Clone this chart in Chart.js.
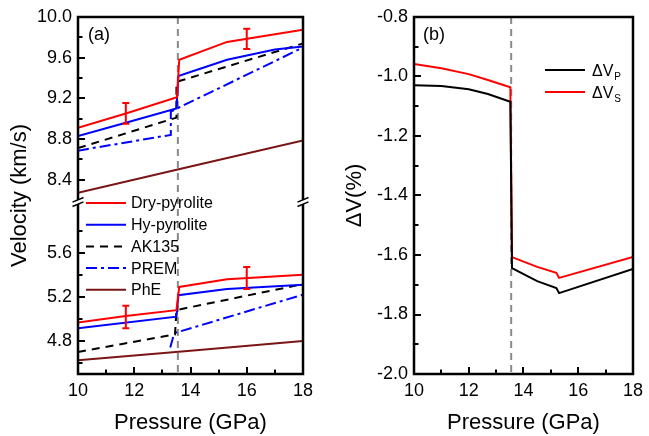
<!DOCTYPE html>
<html>
<head>
<meta charset="utf-8">
<script src="https://cdn.jsdelivr.net/npm/chart.js@4.4.0/dist/chart.umd.min.js"></script>
<style>
  html, body { margin: 0; padding: 0; background: #fff; }
  #wrap { position: relative; width: 649px; height: 436px; }
  #boxA { position: absolute; left: 0; top: 0; width: 330px; height: 436px; }
  #boxB { position: absolute; left: 330px; top: 0; width: 319px; height: 436px; }
</style>
</head>
<body>
<div id="wrap">
  <div id="boxA"><canvas id="chartA"></canvas></div>
  <div id="boxB"><canvas id="chartB"></canvas></div>
</div>
<script>
// ==================================================
// DATA
// ==================================================

// axes / ticks
const pressureTicks = [10, 12, 14, 16, 18];
const pressureMinor = [11, 13, 15, 17];
const vpTicks = [8.4, 8.8, 9.2, 9.6, 10.0];
const vpMinor = [8.6, 9.0, 9.4, 9.8];
const vsTicks = [4.8, 5.2, 5.6];
const vsMinor = [4.6, 5.0, 5.4, 5.8];
const dvTicks = [-2.0, -1.8, -1.6, -1.4, -1.2, -1.0, -0.8];
const dvMinor = [-1.9, -1.7, -1.5, -1.3, -1.1, -0.9];

const xTitle = 'Pressure (GPa)';
const yTitleA = 'Velocity (km/s)';
const yTitleB = 'ΔV(%)';

// 410-km transition (grey dashed line)
const transitionP = 13.55;

// panel (a) series
const seriesNames  = ['Dry-pyrolite', 'Hy-pyrolite', 'AK135', 'PREM', 'PhE'];
const seriesColors = ['#ff0000', '#0000ff', '#000000', '#0000ff', '#7b1414'];
const seriesDash   = [[], [], [8, 6], [11, 4, 3, 4], []];

// Vp (upper part)
const dryVpP  = [10, 11.7, 13.52, 13.6, 15.3, 18];
const dryVpV  = [8.91, 9.05, 9.21, 9.58, 9.755, 9.875];
const hyVpP   = [10, 11.7, 13.5, 13.57, 15.3, 17, 18];
const hyVpV   = [8.83, 8.96, 9.10, 9.42, 9.58, 9.68, 9.71];
const akVpP   = [10, 13.5, 13.5, 13.6, 18];
const akVpV   = [8.71, 9.01, 9.36, 9.37, 9.74];
const premVpP = [10, 10.3, 13.3, 13.3, 18];
const premVpV = [8.685, 8.70, 8.84, 9.07, 9.70];
const pheVpP  = [10, 14, 18];
const pheVpV  = [8.27, 8.53, 8.785];

// Vs (lower part)
const dryVsP  = [10, 11.7, 13.5, 13.6, 15.3, 18];
const dryVsV  = [4.967, 5.027, 5.079, 5.29, 5.36, 5.40];
const hyVsP   = [10, 13.5, 13.57, 15.3, 18];
const hyVsV   = [4.915, 5.02, 5.215, 5.27, 5.31];
const akVsP   = [10, 13.45, 13.5, 18];
const akVsV   = [4.70, 4.86, 5.08, 5.315];
const premVsP = [13.28, 13.42, 18];
const premVsV = [4.74, 4.87, 5.22];
const pheVsP  = [10, 14, 18];
const pheVsV  = [4.625, 4.71, 4.80];

// error bars (dry pyrolite)
const errP      = [11.7, 16];
const errVpLow  = [8.95, 9.685];
const errVpHigh = [9.155, 9.885];
const errVsLow  = [4.915, 5.27];
const errVsHigh = [5.118, 5.47];

// panel (b) series
const dvpP = [10, 11, 12, 12.7, 13.52, 13.58, 14.5, 15.2, 15.3, 18];
const dvpV = [-1.029, -1.032, -1.043, -1.059, -1.085, -1.644, -1.688, -1.711, -1.728, -1.647];
const dvsP = [10, 11, 12, 12.7, 13.52, 13.58, 14.5, 15.2, 15.3, 18];
const dvsV = [-0.958, -0.972, -0.992, -1.012, -1.036, -1.607, -1.64, -1.660, -1.677, -1.607];
const deltaNames  = ['ΔV', 'ΔV'];
const deltaSubs   = ['P', 'S'];
const deltaColors = ['#000000', '#ff0000'];

// ==================================================
// HELPERS
// ==================================================
const FONT = '"Liberation Sans", Arial, sans-serif';
Chart.defaults.font.family = FONT;
Chart.defaults.color = '#000';

function toPoints(xs, ys) {
    return xs.map(function(x, i) { return { x: x, y: ys[i] }; });
}

function lineSet(name, xs, ys, color, dash, axis) {
    return {
        label: name,
        data: toPoints(xs, ys),
        yAxisID: axis,
        borderColor: color,
        backgroundColor: color,
        borderWidth: 2,
        borderDash: dash,
        pointRadius: 0,
        fill: false,
        tension: 0
    };
}

function setTicks(values) {
    return function(scale) { scale.ticks = values.map(function(v) { return { value: v }; }); };
}

function drawTickMarks(ctx, scale, values, len, area) {
    ctx.beginPath();
    values.forEach(function(v) {
        const p = Math.round(scale.getPixelForValue(v));
        if (scale.isHorizontal()) {
            ctx.moveTo(p, area.bottom);
            ctx.lineTo(p, area.bottom - len);
        } else {
            ctx.moveTo(area.left, p);
            ctx.lineTo(area.left + len, p);
        }
    });
    ctx.stroke();
}

function drawFrame(ctx, a) {
    ctx.save();
    ctx.strokeStyle = '#000';
    ctx.lineWidth = 2.5;
    ctx.strokeRect(a.left, a.top, a.right - a.left, a.bottom - a.top);
    ctx.restore();
}

function drawTransition(chart) {
    const ctx = chart.ctx, a = chart.chartArea;
    const px = chart.scales.x.getPixelForValue(transitionP);
    ctx.save();
    ctx.strokeStyle = '#8a8a8a';
    ctx.lineWidth = 2;
    ctx.setLineDash([7, 5]);
    ctx.beginPath();
    ctx.moveTo(px, a.top);
    ctx.lineTo(px, a.bottom);
    ctx.stroke();
    ctx.restore();
}

function xAxisOpts() {
    return {
        type: 'linear', min: 10, max: 18,
        afterBuildTicks: setTicks(pressureTicks),
        afterFit: function(s) { s.height = 62; },
        grid: { display: false, drawTicks: false },
        border: { display: false },
        ticks: { font: { size: 18 }, color: '#000', padding: 6, maxRotation: 0, autoSkip: false,
                 callback: function(v) { return String(v); } },
        title: { display: true, text: xTitle, font: { size: 22 }, color: '#000', padding: { top: 0, bottom: 0 } }
    };
}

function yAxisOpts(min, max, ticks, width) {
    return {
        type: 'linear', position: 'left', min: min, max: max,
        afterBuildTicks: setTicks(ticks),
        afterFit: function(s) { s.width = width; },
        grid: { display: false, drawTicks: false },
        border: { display: false },
        ticks: { font: { size: 18 }, color: '#000', padding: 6, autoSkip: false,
                 callback: function(v) { return v.toFixed(1); } }
    };
}

// ==================================================
// PANEL (a)
// ==================================================
const panelA = {
    id: 'panelA',
    beforeDatasetsDraw: drawTransition,
    afterDatasetsDraw: function(chart) {
        const ctx = chart.ctx, a = chart.chartArea;
        const x = chart.scales.x, yTop = chart.scales.yTop, yBot = chart.scales.yBot;

        // error bars
        ctx.save();
        ctx.strokeStyle = '#ff0000';
        ctx.lineWidth = 2;
        errP.forEach(function(p, i) {
            const px = x.getPixelForValue(p);
            [[yTop, errVpLow[i], errVpHigh[i]], [yBot, errVsLow[i], errVsHigh[i]]].forEach(function(e) {
                const y1 = e[0].getPixelForValue(e[1]), y2 = e[0].getPixelForValue(e[2]);
                ctx.beginPath();
                ctx.moveTo(px, y1); ctx.lineTo(px, y2);
                ctx.moveTo(px - 3.5, y1); ctx.lineTo(px + 3.5, y1);
                ctx.moveTo(px - 3.5, y2); ctx.lineTo(px + 3.5, y2);
                ctx.stroke();
            });
        });
        ctx.restore();

        drawFrame(ctx, a);

        // inward ticks
        ctx.save();
        ctx.strokeStyle = '#000';
        ctx.lineWidth = 2;
        drawTickMarks(ctx, x, pressureTicks, 7, a);
        drawTickMarks(ctx, x, pressureMinor, 4.5, a);
        drawTickMarks(ctx, yTop, vpTicks, 7, a);
        drawTickMarks(ctx, yTop, vpMinor, 4.5, a);
        drawTickMarks(ctx, yBot, vsTicks, 7, a);
        drawTickMarks(ctx, yBot, vsMinor, 4.5, a);
        ctx.restore();

        // axis break marks
        const yb = yTop.bottom;
        ctx.save();
        [a.left, a.right].forEach(function(ax) {
            ctx.fillStyle = '#fff';
            ctx.fillRect(ax - 2, yb - 2, 4, 4);
            ctx.strokeStyle = '#000';
            ctx.lineWidth = 1.5;
            ctx.beginPath();
            [-2.2, 2.2].forEach(function(d) {
                ctx.moveTo(ax - 5.5, yb + d + 2.3);
                ctx.lineTo(ax + 5.5, yb + d - 2.3);
            });
            ctx.stroke();
        });
        ctx.restore();

        // legend
        ctx.save();
        ctx.font = '16px ' + FONT;
        ctx.textBaseline = 'middle';
        ctx.fillStyle = '#000';
        seriesNames.forEach(function(name, i) {
            const ly = 203 + i * 21.7;
            ctx.strokeStyle = seriesColors[i];
            ctx.lineWidth = 2;
            ctx.setLineDash(seriesDash[i]);
            ctx.beginPath();
            ctx.moveTo(86, ly); ctx.lineTo(126, ly);
            ctx.stroke();
            ctx.fillText(name, 131, ly + 1);
        });
        ctx.restore();

        // panel label + y title
        ctx.save();
        ctx.fillStyle = '#000';
        ctx.font = '18px ' + FONT;
        ctx.textBaseline = 'middle';
        ctx.fillText('(a)', 88, 35);
        ctx.font = '22px ' + FONT;
        ctx.translate(20, (a.top + a.bottom) / 2);
        ctx.rotate(-Math.PI / 2);
        ctx.textAlign = 'center';
        ctx.fillText(yTitleA, 0, 0);
        ctx.restore();
    }
};

const yTopOpts = yAxisOpts(8.18, 10.0, vpTicks, 78);
yTopOpts.stack = 'vel';
yTopOpts.stackWeight = 185;
yTopOpts.weight = 1;
const yBotOpts = yAxisOpts(4.5, 6.06, vsTicks, 78);
yBotOpts.stack = 'vel';
yBotOpts.stackWeight = 172;
yBotOpts.weight = 0;

const vpX = [dryVpP, hyVpP, akVpP, premVpP, pheVpP];
const vpY = [dryVpV, hyVpV, akVpV, premVpV, pheVpV];
const vsX = [dryVsP, hyVsP, akVsP, premVsP, pheVsP];
const vsY = [dryVsV, hyVsV, akVsV, premVsV, pheVsV];

const setsA = [];
seriesNames.forEach(function(name, i) {
    setsA.push(lineSet(name + ' Vp', vpX[i], vpY[i], seriesColors[i], seriesDash[i], 'yTop'));
    setsA.push(lineSet(name + ' Vs', vsX[i], vsY[i], seriesColors[i], seriesDash[i], 'yBot'));
});

new Chart(document.getElementById('chartA'), {
    type: 'line',
    data: { datasets: setsA },
    options: {
        responsive: true,
        maintainAspectRatio: false,
        animation: false,
        devicePixelRatio: 1,
        layout: { padding: { top: 17, right: 27, left: 0, bottom: 0 } },
        plugins: { legend: { display: false }, tooltip: { enabled: false } },
        scales: { x: xAxisOpts(), yTop: yTopOpts, yBot: yBotOpts }
    },
    plugins: [panelA]
});

// ==================================================
// PANEL (b)
// ==================================================
const panelB = {
    id: 'panelB',
    beforeDatasetsDraw: drawTransition,
    afterDatasetsDraw: function(chart) {
        const ctx = chart.ctx, a = chart.chartArea;
        drawFrame(ctx, a);

        ctx.save();
        ctx.strokeStyle = '#000';
        ctx.lineWidth = 2;
        drawTickMarks(ctx, chart.scales.x, pressureTicks, 7, a);
        drawTickMarks(ctx, chart.scales.x, pressureMinor, 4.5, a);
        drawTickMarks(ctx, chart.scales.y, dvTicks, 7, a);
        drawTickMarks(ctx, chart.scales.y, dvMinor, 4.5, a);
        ctx.restore();

        // legend
        ctx.save();
        ctx.fillStyle = '#000';
        ctx.textBaseline = 'alphabetic';
        deltaNames.forEach(function(name, i) {
            const ly = 70 + i * 22;
            ctx.strokeStyle = deltaColors[i];
            ctx.lineWidth = 2;
            ctx.beginPath();
            ctx.moveTo(215, ly); ctx.lineTo(255, ly);
            ctx.stroke();
            ctx.font = '16px ' + FONT;
            ctx.fillText(name, 262, ly + 6);
            const w = ctx.measureText(name).width;
            ctx.font = '10px ' + FONT;
            ctx.fillText(deltaSubs[i], 262 + w + 1, ly + 10);
        });
        ctx.font = '18px ' + FONT;
        ctx.textBaseline = 'middle';
        ctx.fillText('(b)', 93, 35);
        ctx.restore();
    }
};

const yB = yAxisOpts(-2.0, -0.8, dvTicks, 84);
yB.title = { display: true, text: yTitleB, font: { size: 22 }, color: '#000', padding: { top: 12, bottom: 0 } };

new Chart(document.getElementById('chartB'), {
    type: 'line',
    data: {
        datasets: [
            lineSet('ΔVP', dvpP, dvpV, deltaColors[0], [], 'y'),
            lineSet('ΔVS', dvsP, dvsV, deltaColors[1], [], 'y')
        ]
    },
    options: {
        responsive: true,
        maintainAspectRatio: false,
        animation: false,
        devicePixelRatio: 1,
        layout: { padding: { top: 17, right: 11, left: 0, bottom: 0 } },
        plugins: { legend: { display: false }, tooltip: { enabled: false } },
        scales: { x: xAxisOpts(), y: yB }
    },
    plugins: [panelB]
});
</script>
</body>
</html>
